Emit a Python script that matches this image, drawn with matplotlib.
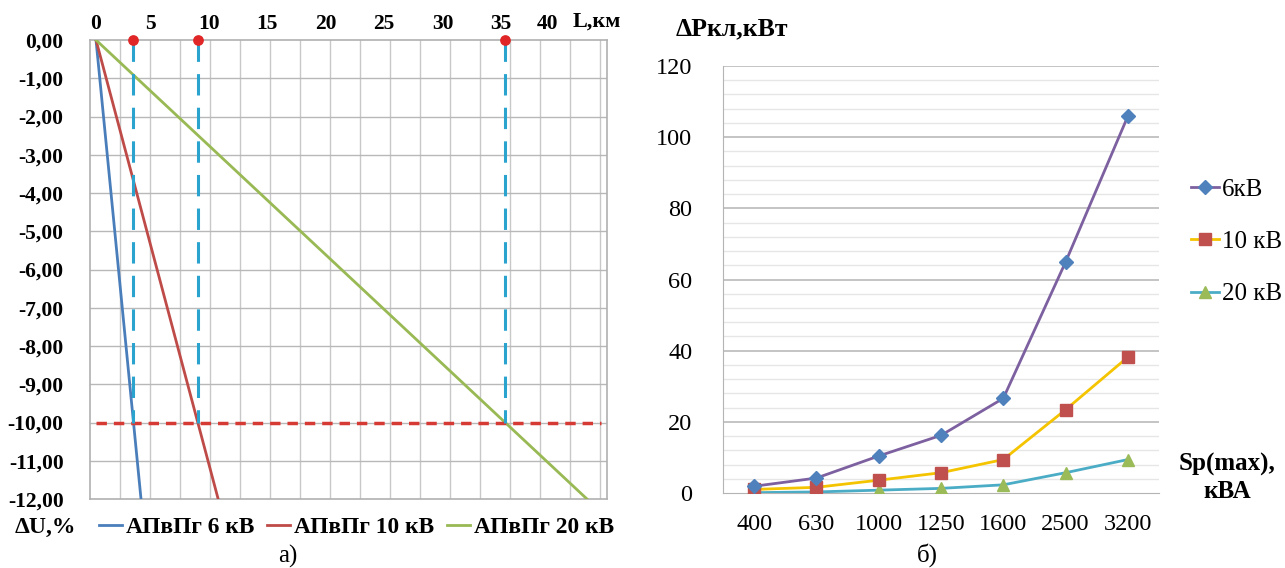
import matplotlib
matplotlib.use("Agg")
import matplotlib.pyplot as plt
from matplotlib.transforms import ScaledTranslation
import numpy as np

plt.rcParams['font.family'] = ['Liberation Serif', 'DejaVu Serif']

# ---------------- data: left chart (voltage loss vs line length) -------------
series_names = ['АПвПг 6 кВ', 'АПвПг 10 кВ', 'АПвПг 20 кВ']
L_6 = [0, 3.85]
dU_6 = [0, -12.0]
L_10 = [0, 10.45]
dU_10 = [0, -12.0]
L_20 = [0, 42.0]
dU_20 = [0, -12.0]
L_limit = [3.2, 8.7, 35.0]       # lengths where dU reaches the limit
dU_limit = -10.0
x_tick_vals = [0, 5, 10, 15, 20, 25, 30, 35, 40]
y_tick_vals = [0, -1, -2, -3, -4, -5, -6, -7, -8, -9, -10, -11, -12]

# ---------------- data: right chart (cable losses vs power) -----------------
categories = ['400', '630', '1000', '1250', '1600', '2500', '3200']
P_6 = [1.9, 4.2, 10.4, 16.2, 26.6, 64.9, 105.9]
P_10 = [1.0, 1.6, 3.6, 5.7, 9.4, 23.4, 38.2]
P_20 = [0.1, 0.3, 0.8, 1.3, 2.3, 5.7, 9.4]
legend_names = ['6кВ', '10 кВ', '20 кВ']

W, H = 1285, 568
fig = plt.figure(figsize=(W / 100, H / 100), dpi=100)

def fx(px):
    return px / W

def fy(py):
    return 1 - py / H

# ---------------- left axes ---------------------------------------------------
px_per_km = 11.69
x_left = -6 / px_per_km
x_right = (607 - 96) / px_per_km
axL = fig.add_axes([fx(90), fy(499), fx(607) - fx(90), fy(40) - fy(499)])
axL.set_xlim(x_left, x_right)
axL.set_ylim(-12, 0)

grid_col = '#c8c8c8'
for s in axL.spines.values():
    s.set_color('#b0b0b0')
    s.set_linewidth(1.2)

vgrid = np.arange(x_left, x_right, 30 / px_per_km)
for g in vgrid[1:]:
    axL.axvline(g, color=grid_col, lw=1.0, zorder=0)
for v in y_tick_vals[1:-1]:
    axL.axhline(v, color='#b8b8b8', lw=1.0, zorder=0)

axL.xaxis.tick_top()
axL.set_xticks(x_tick_vals)
axL.set_xticklabels([str(v) for v in x_tick_vals], fontsize=15.5, fontweight='bold')
axL.set_yticks(y_tick_vals)
axL.set_yticklabels([f"{v:.2f}".replace('.', ',') for v in y_tick_vals],
                    fontsize=15.5, fontweight='bold')
axL.tick_params(axis='both', length=0, pad=4)
axL.tick_params(axis='y', pad=19)
xt = axL.get_xticklabels()
for lab in xt[1:]:
    lab.set_transform(lab.get_transform() + ScaledTranslation(-0.04, 0, fig.dpi_scale_trans))
xt[-1].set_transform(xt[-1].get_transform() + ScaledTranslation(-0.12, 0, fig.dpi_scale_trans))

c6, c10, c20 = '#4a7ebb', '#be4b48', '#98b954'
l1, = axL.plot(L_6, dU_6, color=c6, lw=2, zorder=3)
l2, = axL.plot(L_10, dU_10, color=c10, lw=2, zorder=3)
l3, = axL.plot(L_20, dU_20, color=c20, lw=2, zorder=3)

axL.plot([0, x_right - 0.5], [dU_limit, dU_limit], color='#d63a35', lw=2.5,
         dashes=(3, 2), zorder=4)
for Lc in L_limit:
    axL.plot([Lc, Lc], [0, dU_limit], color='#2aa3cf', lw=2.2, dashes=(7, 4), zorder=4)
axL.scatter(L_limit, [0] * len(L_limit), s=45, color='#e02626', zorder=6, clip_on=False)

fig.text(fx(621), fy(22), 'L,км', fontsize=16, fontweight='bold', ha='right', va='center')
fig.text(fx(76), fy(527), 'ΔU,%', fontsize=17, fontweight='bold', ha='right', va='center')
fig.legend([l1, l2, l3], series_names, loc='center left',
           bbox_to_anchor=(fx(99), fy(527)), ncol=3, frameon=False,
           prop={'size': 16.8, 'weight': 'bold'}, handlelength=1.0,
           handletextpad=0.15, columnspacing=0.55, borderaxespad=0, borderpad=0)
fig.text(fx(288), fy(556), 'а)', fontsize=18, ha='center', va='center')

# ---------------- right axes --------------------------------------------------
axR = fig.add_axes([fx(723), fy(493), fx(1159) - fx(723), fy(66) - fy(493)])
xpos = np.arange(len(categories))
axR.set_xlim(-0.5, len(categories) - 0.5)
axR.set_ylim(0, 120)
for yv in np.arange(4, 120, 4):
    if yv % 20 != 0:
        axR.axhline(yv, color='#e6e6e6', lw=1.0, zorder=0)
for yv in np.arange(20, 121, 20):
    axR.axhline(yv, color='#b4b4b4', lw=1.1, zorder=0)
axR.spines['top'].set_visible(False)
axR.spines['right'].set_visible(False)
axR.spines['left'].set_color('#b4b4b4')
axR.spines['bottom'].set_color('#b4b4b4')
axR.set_xticks(xpos)
axR.set_xticklabels(categories, fontsize=17.5)
axR.set_yticks(np.arange(0, 121, 20))
axR.set_yticklabels([str(v) for v in range(0, 121, 20)], fontsize=17.5)
axR.tick_params(axis='both', length=0)
axR.tick_params(axis='x', pad=15)
axR.tick_params(axis='y', pad=22)

r1, = axR.plot(xpos, P_6, color='#7d60a0', lw=2, marker='D', ms=7,
               mfc='#4f81bd', mec='#4f81bd', zorder=5)
r2, = axR.plot(xpos, P_10, color='#f5c400', lw=2, marker='s', ms=8,
               mfc='#c0504d', mec='#c0504d', zorder=4)
r3, = axR.plot(xpos, P_20, color='#4bacc6', lw=2, marker='^', ms=9,
               mfc='#9bbb59', mec='#9bbb59', zorder=3)

fig.legend([r1, r2, r3], legend_names, loc='upper left',
           bbox_to_anchor=(fx(1191), fy(178)), frameon=False,
           prop={'size': 18}, handlelength=1.1, handletextpad=0.12,
           labelspacing=1.2, borderaxespad=0, borderpad=0)

fig.text(fx(676), fy(29), 'ΔPкл,кВт', fontsize=18.5, fontweight='bold', ha='left', va='center')
fig.text(fx(1227), fy(478), 'Sp(max),\nкВА', fontsize=18, fontweight='bold',
         ha='center', va='center', linespacing=1.2)
fig.text(fx(927), fy(555), 'б)', fontsize=18, ha='center', va='center')

fig.savefig('out.png', dpi=100)
